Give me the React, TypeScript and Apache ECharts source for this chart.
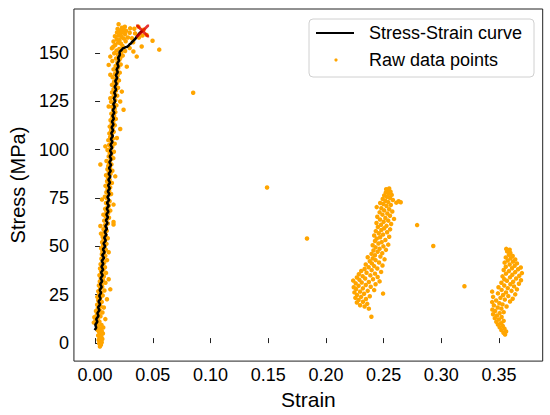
import React, { useEffect, useRef } from "react";
import * as echarts from "echarts";

const xTicks = [0, 0.05, 0.1, 0.15, 0.2, 0.25, 0.3, 0.35];
const yTicks = [0, 25, 50, 75, 100, 125, 150];

const curveData = [
  [-0.0003, 6.7], [0.001, 8], [0.0002, 9.5], [0.002, 11], [0.001, 12.5], [0.003, 14], [0.002, 15.5],
  [0.0038, 17], [0.0026, 18.5], [0.0044, 20], [0.003, 21.5], [0.0048, 23], [0.0036, 24.5], [0.0052, 26],
  [0.004, 27.5], [0.0058, 29], [0.0044, 30.5], [0.0062, 32], [0.0048, 33.5], [0.0066, 35], [0.0052, 36.5],
  [0.007, 38], [0.0055, 39.5], [0.0072, 41], [0.0058, 42.5], [0.0078, 44], [0.0062, 45.5], [0.0083, 47],
  [0.0068, 48.5], [0.0088, 50], [0.0073, 51.5], [0.0093, 53], [0.0079, 54.5], [0.0098, 56], [0.0084, 57.5],
  [0.0103, 59], [0.0089, 60.5], [0.0108, 62], [0.0094, 63.5], [0.0112, 65], [0.0098, 66.5], [0.0116, 68],
  [0.0101, 69.5], [0.0119, 71], [0.0104, 72.5], [0.0122, 74], [0.0107, 75.5], [0.0125, 77], [0.011, 78.5],
  [0.0128, 80], [0.0113, 81.5], [0.013, 83], [0.0115, 84.5], [0.0133, 86], [0.0118, 87.5], [0.0136, 89],
  [0.0121, 90.5], [0.0139, 92], [0.0124, 93.5], [0.0141, 95], [0.0127, 96.5], [0.0145, 98], [0.013, 99.5],
  [0.0148, 101], [0.0134, 102.5], [0.0151, 104], [0.0137, 105.5], [0.0154, 107], [0.014, 108.5],
  [0.0157, 110], [0.0143, 111.5], [0.016, 113], [0.0146, 114.5], [0.0163, 116], [0.015, 117.5],
  [0.0167, 119], [0.0154, 120.5], [0.0171, 122], [0.0158, 123.5], [0.0175, 125], [0.0162, 126.5],
  [0.0179, 128], [0.0166, 129.5], [0.0183, 131], [0.017, 132.5], [0.0187, 134], [0.0175, 135.5],
  [0.0192, 137], [0.018, 138.5], [0.0197, 140], [0.0186, 141.5], [0.0203, 143], [0.0192, 144.5],
  [0.0208, 146], [0.02, 147.5], [0.0215, 149], [0.0212, 150.5], [0.023, 151.5], [0.024, 152.3],
  [0.0252, 152.6], [0.0266, 153], [0.028, 153.2], [0.029, 153.8], [0.03, 154.5], [0.031, 154.8],
  [0.0318, 155.5], [0.0328, 156], [0.0338, 156.7], [0.0348, 157.2], [0.0361, 158.4], [0.037, 159],
  [0.0384, 160.1], [0.0395, 160.8], [0.0412, 161.3],
];

const fracturePoint = [[0.0412, 161.3]];

const rawElastic = [
  [0.0042, -1.8], [0.0051, -0.9], [0.0036, -0.2], [0.0058, 0.4], [0.0046, 0.9], [0.0031, 1.6], [0.0063, 2.1],
  [0.004, 2.8], [0.0054, 3.3], [0.0027, 3.9], [0.0047, 4.6], [0.0068, 5.0], [0.0035, 5.7], [0.0058, 6.2],
  [0.0022, 6.8], [0.0044, 7.4], [0.0071, 8.1], [0.003, 8.8], [0.0056, 9.4], [0.0014, 9.9],
  [-0.0011, 10.6], [0.0038, 11.1], [0.0005, 11.9], [0.0022, 12.6], [0.0089, 12.4], [-0.0006, 13.4],
  [0.0047, 13.9], [0.0015, 14.7], [0.0031, 15.3], [0.0064, 15.8], [0.0008, 16.6], [0.004, 17.2],
  [0.0024, 18.0], [0.0076, 18.4], [0.0048, 19.1], [0.0018, 19.8], [0.0035, 20.6], [0.0058, 21.3],
  [0.0027, 22.1], [0.0103, 22.7], [0.0044, 23.2], [0.0019, 23.9], [0.0066, 24.6], [0.0036, 25.3],
  [0.0052, 26.0], [0.0028, 26.8], [0.0081, 27.2], [0.0132, 27.8], [0.0045, 28.3], [0.0062, 29.1],
  [0.0033, 29.8],
  [0.0057, 30.6], [0.009, 31.2], [0.0041, 31.9], [0.0118, 33.0], [0.0068, 32.7], [0.005, 33.6],
  [0.0076, 34.4], [0.0038, 35.1], [0.0061, 35.8], [0.0095, 36.3], [0.0052, 37.1], [0.0071, 37.9],
  [0.0043, 38.6], [0.0086, 39.2], [0.006, 40.0], [0.0048, 40.8], [0.0079, 41.5], [0.0066, 42.3],
  [0.0104, 42.9], [0.0055, 43.6], [0.0073, 44.4], [0.0089, 45.1], [0.0059, 45.9], [0.0118, 47.0],
  [0.0077, 46.6], [0.0064, 47.5], [0.0093, 48.3], [0.0053, 49.0], [0.0082, 49.7], [0.007, 50.6],
  [0.0099, 51.3], [0.0061, 52.1], [0.0086, 52.9], [0.0074, 53.6], [0.011, 54.2], [0.0066, 55.0],
  [0.0092, 55.8], [0.0051, 56.6], [0.0081, 57.3], [0.0101, 58.1], [0.0073, 58.9], [0.0046, 60.5],
  [0.0094, 59.6], [0.016, 61.3],
  [0.0085, 61.0], [0.0111, 61.8], [0.016, 62.6], [0.0079, 63.3], [0.0104, 64.1], [0.0121, 64.8],
  [0.0091, 65.6], [0.0072, 66.4], [0.0113, 67.1], [0.0098, 67.9], [0.0132, 68.5], [0.0087, 69.4],
  [0.0108, 70.2], [0.016, 71.6], [0.0119, 71.0], [0.0095, 72.4], [0.006, 74.2], [0.0126, 73.3],
  [0.0104, 74.8], [0.0085, 75.7], [0.0116, 76.4], [0.0139, 77.1], [0.0098, 78.0], [0.0122, 78.8],
  [0.0108, 79.6], [0.0131, 80.5], [0.009, 81.3], [0.0115, 82.0], [0.0146, 82.8], [0.0104, 83.7],
  [0.0126, 84.5], [0.0175, 86.2], [0.0112, 85.4], [0.0095, 86.8], [0.0134, 87.5], [0.0119, 88.3],
  [0.015, 89.1], [0.0107, 89.9],
  [0.0129, 90.7], [0.0046, 92.3], [0.0114, 91.6], [0.0142, 92.4], [0.0121, 93.2], [0.0099, 94.1],
  [0.0136, 94.9], [0.0158, 95.6], [0.0118, 96.5], [0.014, 97.4], [0.0127, 98.2], [0.0163, 98.9],
  [0.0108, 99.8], [0.0089, 101.7], [0.0135, 100.6], [0.0149, 101.5], [0.0122, 102.4], [0.017, 103.1],
  [0.0141, 104.0], [0.0115, 104.9], [0.0155, 105.7], [0.0189, 106.0], [0.0131, 106.6], [0.0146, 107.5],
  [0.0124, 108.4], [0.0162, 109.2], [0.0218, 110.7], [0.0139, 110.1], [0.0152, 111.0], [0.0127, 111.9],
  [0.0171, 112.6], [0.0145, 113.5], [0.0158, 114.4], [0.0134, 115.2], [0.018, 115.9], [0.015, 116.8],
  [0.0165, 117.7], [0.0141, 118.6], [0.0176, 119.4],
  [0.0247, 120.6], [0.0157, 120.3], [0.0118, 122.3], [0.017, 121.2], [0.0148, 122.1], [0.0185, 122.9],
  [0.0162, 123.8], [0.0218, 124.9], [0.0139, 124.7], [0.0175, 125.6], [0.0132, 126.6], [0.0158, 127.3],
  [0.0192, 127.9], [0.0168, 128.8], [0.0147, 129.6], [0.0232, 130.0], [0.0181, 130.5], [0.016, 131.3],
  [0.0199, 132.0], [0.0173, 132.9], [0.0146, 133.5], [0.0188, 134.3], [0.0165, 135.1], [0.0207, 135.8],
  [0.018, 136.6], [0.0152, 137.4], [0.0132, 138.7], [0.0195, 138.2], [0.0172, 139.1], [0.0214, 139.8],
  [0.0187, 140.6], [0.016, 141.5], [0.0275, 142.9], [0.0201, 142.3], [0.0118, 143.8], [0.0178, 143.2],
  [0.0222, 144.0], [0.0193, 144.9], [0.015, 145.8], [0.021, 146.4], [0.0218, 147.3], [0.0182, 147.1],
  [0.0132, 148.1], [0.0361, 148.1], [0.024, 148.6], [0.0198, 149.2], [0.0166, 149.8],
  [0.0332, 150.7], [0.0227, 150.4], [0.0146, 152.4], [0.0185, 151.2], [0.026, 151.0], [0.0556, 151.7],
  [0.021, 152.0], [0.03, 152.5], [0.0404, 153.3], [0.0175, 154.1], [0.0238, 153.6], [0.0158, 153.2],
  [0.0225, 154.8], [0.02, 155.3], [0.016, 155.9], [0.0265, 156.0], [0.0212, 156.6], [0.033, 155.5],
  [0.0188, 157.1], [0.0498, 156.3], [0.025, 157.4], [0.023, 158.2], [0.0285, 158.0], [0.032, 157.6],
  [0.038, 158.0], [0.0172, 158.6], [0.0205, 159.0], [0.0447, 159.3], [0.026, 159.6], [0.0347, 160.1],
  [0.0225, 160.2], [0.019, 160.6], [0.03, 160.4], [0.0245, 161.0], [0.042, 162.0], [0.0215, 161.6],
  [0.027, 161.4], [0.0247, 161.9], [0.0304, 162.7], [0.0195, 162.4], [0.0233, 163.0], [0.0375, 163.6],
  [0.0258, 163.5], [0.0204, 164.8], [0.034, 162.5], [0.041, 159.0],
];

const rawIsolated = [
  [0.085, 129.4], [0.149, 80.4], [0.1836, 54.1], [0.279, 61], [0.293, 50.2], [0.32, 29.4],
];

const rawClusterB = [
  [0.2394, 13.6],
  [0.2372, 17.8], [0.2335, 18.9], [0.2296, 19.6], [0.2358, 20.3], [0.2268, 21.0], [0.2321, 21.4],
  [0.2283, 22.3], [0.2347, 22.8], [0.2255, 23.4], [0.2305, 23.9], [0.238, 24.2], [0.227, 24.9],
  [0.2495, 25.6], [0.2331, 25.5],
  [0.2247, 26.2], [0.2296, 26.6], [0.2362, 27.0], [0.2418, 27.4], [0.2262, 27.9], [0.232, 28.3],
  [0.2241, 28.9], [0.2388, 29.1], [0.2283, 29.6], [0.2345, 30.0], [0.243, 30.4], [0.2258, 30.9],
  [0.231, 31.3], [0.2372, 31.6], [0.2465, 31.9], [0.2236, 32.3], [0.229, 32.7], [0.2408, 33.0],
  [0.234, 33.4], [0.2268, 33.9], [0.2448, 34.2], [0.2318, 34.6], [0.2385, 35.0],
  [0.2285, 35.6], [0.2425, 35.9], [0.2352, 36.4], [0.2478, 36.8], [0.2306, 37.3], [0.2396, 37.7],
  [0.2335, 38.3], [0.2445, 38.6], [0.237, 39.2], [0.2418, 39.8], [0.249, 40.1], [0.2345, 40.6],
  [0.2398, 41.2], [0.246, 41.7], [0.238, 42.3], [0.243, 42.9], [0.2508, 43.3], [0.2405, 43.8],
  [0.2362, 44.4], [0.2472, 44.8],
  [0.2425, 45.4], [0.2395, 46.1], [0.2488, 46.5], [0.2448, 47.2], [0.2412, 47.9], [0.252, 48.2],
  [0.2465, 48.8], [0.243, 49.5], [0.2498, 50.0], [0.2405, 50.6], [0.254, 50.9], [0.2455, 51.5],
  [0.2483, 52.2], [0.2425, 52.8], [0.2515, 53.3], [0.244, 54.0], [0.247, 54.7], [0.2548, 55.0],
  [0.2418, 55.6], [0.2495, 56.1], [0.2458, 56.8], [0.253, 57.3], [0.2432, 57.9], [0.248, 58.5],
  [0.2556, 58.8], [0.2505, 59.4],
  [0.245, 60.0], [0.2525, 60.6], [0.2478, 61.2], [0.2565, 61.6], [0.2438, 62.1], [0.25, 62.7],
  [0.254, 63.3], [0.2468, 63.9], [0.259, 64.2], [0.2515, 64.7], [0.2445, 65.3], [0.2555, 65.8],
  [0.249, 66.4], [0.2532, 67.0], [0.2465, 67.6], [0.2575, 68.0], [0.2505, 68.6], [0.2548, 69.2],
  [0.248, 69.7], [0.244, 70.3], [0.2525, 70.9], [0.2562, 71.4], [0.2498, 71.9],
  [0.247, 72.4], [0.261, 72.6], [0.2648, 72.8], [0.263, 73.3], [0.254, 72.9], [0.2515, 73.6],
  [0.258, 74.0], [0.2492, 74.5], [0.2555, 75.0], [0.2528, 75.6], [0.2505, 76.3], [0.257, 76.6],
  [0.2545, 77.2], [0.2518, 77.8], [0.256, 78.3], [0.2535, 78.8], [0.2522, 79.5], [0.2548, 79.9],
];

const rawClusterC = [
  [0.3552, 4.4], [0.3538, 5.3], [0.3561, 6.0], [0.352, 6.7], [0.3547, 7.5], [0.3505, 8.2], [0.3532, 8.9],
  [0.349, 9.6], [0.3518, 10.3], [0.3476, 11.0], [0.354, 11.5], [0.3498, 12.2], [0.3463, 12.9],
  [0.3522, 13.5], [0.3481, 14.2], [0.3448, 14.9], [0.3505, 15.5], [0.354, 16.0], [0.3466, 16.6],
  [0.3442, 17.3], [0.352, 17.8], [0.3488, 18.4], [0.3565, 18.9], [0.3455, 19.5], [0.353, 20.0],
  [0.3502, 20.6], [0.344, 21.2], [0.3595, 21.5], [0.3475, 22.0], [0.355, 22.5], [0.3618, 22.9],
  [0.3512, 23.4], [0.3448, 23.9], [0.358, 24.3], [0.3535, 24.9], [0.364, 25.2], [0.349, 25.7],
  [0.356, 26.2], [0.344, 26.6], [0.3608, 27.0], [0.3522, 27.5], [0.3655, 27.8], [0.3575, 28.4],
  [0.3495, 28.9], [0.363, 29.3], [0.3545, 29.8], [0.3598, 30.4], [0.3672, 30.7], [0.352, 31.2],
  [0.3622, 31.7], [0.3568, 32.2], [0.369, 32.5], [0.3545, 33.0], [0.3648, 33.4], [0.3595, 34.0],
  [0.353, 34.5], [0.3675, 34.8], [0.3615, 35.3], [0.356, 35.9], [0.3698, 36.2], [0.364, 36.7],
  [0.3585, 37.2], [0.354, 37.8], [0.3665, 38.2], [0.3612, 38.7], [0.3688, 39.1], [0.3558, 39.5],
  [0.3635, 40.0], [0.3592, 40.6], [0.3655, 41.2], [0.3548, 41.6], [0.362, 42.1], [0.3575, 42.7],
  [0.364, 43.2], [0.36, 43.8], [0.3558, 44.3], [0.3618, 45.0], [0.3585, 45.7], [0.3598, 46.6],
  [0.357, 47.4], [0.3592, 48.3], [0.3562, 48.7],
];

const FONT = "'Liberation Sans', Arial, sans-serif";
const ORANGE = "#FFA500";
const AXIS = "#222";

export default function App() {
  const ref = useRef<HTMLDivElement>(null);
  useEffect(() => {
    document.body.style.margin = "0";
    const chart = echarts.init(ref.current!, null, { renderer: "svg" });
    const rawAll = [...rawElastic, ...rawIsolated, ...rawClusterB, ...rawClusterC];
    chart.setOption({
      animation: false,
      backgroundColor: "#fff",
      grid: {
        left: 70, top: 9, right: 7.3, bottom: 53,
        show: true, borderColor: AXIS, borderWidth: 1, backgroundColor: "transparent",
      },
      xAxis: {
        type: "value",
        min: -0.0183, max: 0.3878,
        name: "Strain",
        nameLocation: "middle",
        nameGap: 22,
        nameTextStyle: { fontSize: 21, color: "#000", fontFamily: FONT },
        axisLine: { show: false },
        splitLine: { show: false },
        axisTick: { show: true, inside: true, length: 5, lineStyle: { color: AXIS }, customValues: xTicks },
        axisLabel: {
          fontSize: 18, color: "#000", fontFamily: FONT, margin: 5,
          customValues: xTicks,
          formatter: (v: number) => v.toFixed(2),
        },
      },
      yAxis: {
        type: "value",
        min: -9.3, max: 172.7,
        name: "Stress (MPa)",
        nameLocation: "middle",
        nameGap: 43,
        nameTextStyle: { fontSize: 20, color: "#000", fontFamily: FONT },
        axisLine: { show: false },
        splitLine: { show: false },
        axisTick: { show: true, inside: true, length: 5, lineStyle: { color: AXIS }, customValues: yTicks },
        axisLabel: {
          fontSize: 18, color: "#000", fontFamily: FONT, margin: 5,
          customValues: yTicks,
          formatter: (v: number) => String(Math.round(v)),
        },
      },
      series: [
        {
          type: "scatter",
          name: "Raw data points",
          data: rawAll,
          symbolSize: 4.5,
          itemStyle: { color: ORANGE, opacity: 1 },
          z: 2,
        },
        {
          type: "line",
          name: "Stress-Strain curve",
          data: curveData,
          showSymbol: false,
          symbol: "none",
          lineStyle: { color: "#000", width: 2.5 },
          z: 3,
        },
        {
          type: "scatter",
          name: "Fracture",
          data: fracturePoint,
          symbol: "path://M0,0 L3,0 L10,7 L17,0 L20,0 L20,3 L13,10 L20,17 L20,20 L17,20 L10,13 L3,20 L0,20 L0,17 L7,10 L0,3 Z",
          symbolSize: 13,
          itemStyle: { color: "#E00000" },
          z: 4,
        },
      ],
      graphic: [
        {
          type: "rect",
          shape: { x: 309, y: 19, width: 225, height: 58, r: 4 },
          style: { fill: "rgba(255,255,255,0.8)", stroke: "#d0d0d0", lineWidth: 1 },
          z: 10,
        },
        {
          type: "line",
          shape: { x1: 316, y1: 33, x2: 354, y2: 33 },
          style: { stroke: "#000", lineWidth: 2 },
          z: 11,
        },
        {
          type: "text",
          x: 369, y: 33,
          style: { text: "Stress-Strain curve", fontSize: 18, fontFamily: FONT, fill: "#000", verticalAlign: "middle", align: "left" },
          z: 11,
        },
        {
          type: "circle",
          shape: { cx: 336, cy: 60, r: 1.6 },
          style: { fill: ORANGE },
          z: 11,
        },
        {
          type: "text",
          x: 369, y: 60,
          style: { text: "Raw data points", fontSize: 18, fontFamily: FONT, fill: "#000", verticalAlign: "middle", align: "left" },
          z: 11,
        },
      ],
    });
    return () => chart.dispose();
  }, []);
  return <div ref={ref} style={{ width: 550, height: 415 }} />;
}
